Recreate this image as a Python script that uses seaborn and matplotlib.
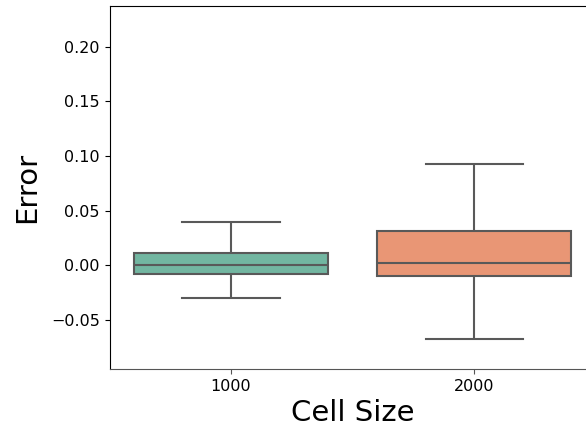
import numpy as np
import pandas as pd
import matplotlib
matplotlib.use("Agg")
import matplotlib.pyplot as plt
import seaborn as sns

# Data: five-number summaries (lo whisker, Q1, median, Q3, hi whisker)
cell_sizes = ["1000", "2000"]
errors_1000 = [-0.0303, -0.0086, 0.0000, 0.0110, 0.0394]
errors_2000 = [-0.0676, -0.0101, 0.0018, 0.0315, 0.0927]
y_ticks = [-0.05, 0.00, 0.05, 0.10, 0.15, 0.20]

df = pd.DataFrame({
    "Cell Size": [cell_sizes[0]] * len(errors_1000) + [cell_sizes[1]] * len(errors_2000),
    "Error": errors_1000 + errors_2000,
})

fig = plt.figure(figsize=(5.86, 4.34), dpi=100)
ax = fig.add_axes([109.5 / 586, 1 - 369 / 434, 486.2 / 586, 363 / 434])

sns.boxplot(data=df, x="Cell Size", y="Error", hue="Cell Size", order=cell_sizes,
            palette="Set2", whis=(0, 100), width=0.8, linewidth=1.5, legend=False, ax=ax)

ax.set_xlim(-0.5, 1.5)
ax.set_ylim(-0.0954, 0.2376)
ax.set_yticks(y_ticks)
ax.tick_params(axis="both", labelsize=11.5)
ax.tick_params(axis="x", color="#555555")
ax.spines["bottom"].set_color("#555555")
ax.set_xlabel("Cell Size", fontsize=21)
ax.set_ylabel("Error", fontsize=21, labelpad=7)

fig.savefig("out.png", dpi=100)
